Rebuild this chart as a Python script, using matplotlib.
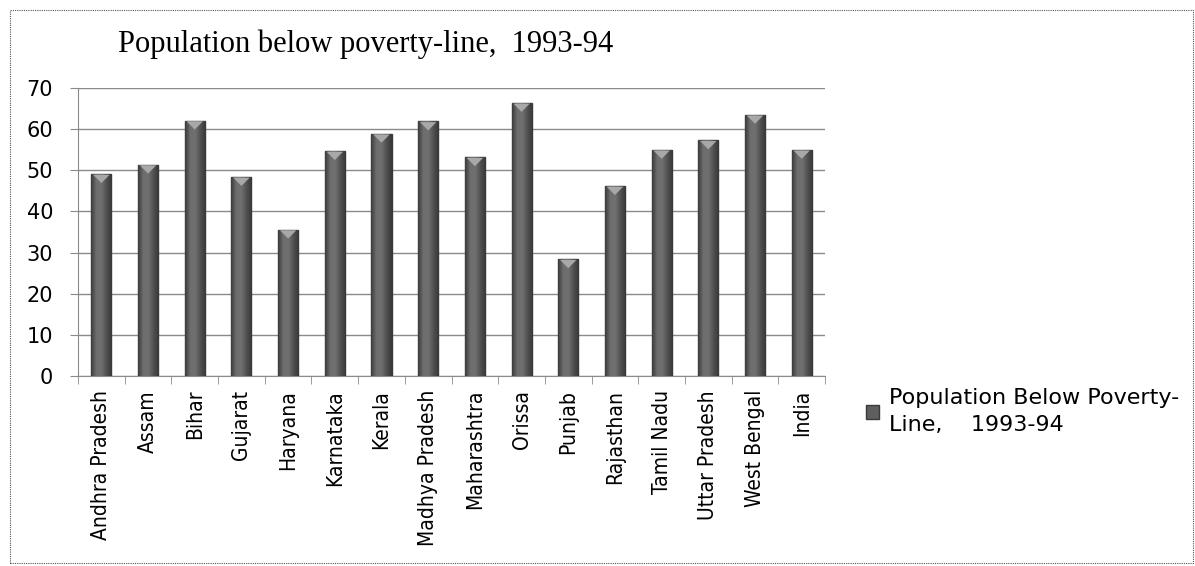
import matplotlib
matplotlib.use("Agg")
import matplotlib.pyplot as plt
import numpy as np
from matplotlib.patches import Rectangle, Polygon
from matplotlib.colors import LinearSegmentedColormap

# 데이터
states = ["Andhra Pradesh", "Assam", "Bihar", "Gujarat", "Haryana", "Karnataka",
          "Kerala", "Madhya Pradesh", "Maharashtra", "Orissa", "Punjab",
          "Rajasthan", "Tamil Nadu", "Uttar Pradesh", "West Bengal", "India"]
poverty = [49.1, 51.4, 62.1, 48.4, 35.6, 54.7, 58.9, 61.9, 53.2, 66.4, 28.4,
           46.2, 55.0, 57.3, 63.5, 55.0]
yticks = [0, 10, 20, 30, 40, 50, 60, 70]
series_name = "Population Below Poverty-\nLine,    1993-94"
title = "Population below poverty-line,  1993-94"

fig = plt.figure(figsize=(11.95, 5.66), dpi=100)
ax = fig.add_axes([0.0653, 0.3357, 0.6251, 0.5088])

x = list(range(len(states)))
bars = ax.bar(x, poverty, width=0.43, color="#5f5f5f", edgecolor="#3a3a3a",
              linewidth=1.0, zorder=3, label=series_name)

# 막대 그라데이션 (가운데 밝고 가장자리 어둡게)
grad_cmap = LinearSegmentedColormap.from_list("bar", ["#3c3c3c", "#6e6e6e", "#707070", "#505050", "#383838"])
grad = np.linspace(0, 1, 64).reshape(1, -1)
for b in bars:
    x0 = b.get_x()
    w = b.get_width()
    h = b.get_height()
    im = ax.imshow(grad, cmap=grad_cmap, extent=(x0, x0 + w, 0, h), aspect="auto", zorder=3.5)
    im.set_clip_path(b)
    # 위쪽 삼각형 하이라이트
    tri = Polygon([[x0 + 0.04, h - 0.2], [x0 + w - 0.04, h - 0.2], [x0 + w / 2, h - 2.2]],
                  closed=True, fc="#a8a8a8", ec="none", zorder=4)
    ax.add_patch(tri)

ax.set_xlim(-0.5, len(states) - 0.5)
ax.set_ylim(0, 70)
ax.set_yticks(yticks)
ax.set_yticklabels([str(t) for t in yticks], fontsize=15, family="DejaVu Sans")
ax.yaxis.grid(True, color="#8a8a8a", lw=1.0, zorder=0)

ax.set_xticks(x)
ax.set_xticklabels(states, rotation=90, fontsize=15, family="DejaVu Sans", stretch="condensed")
ax.tick_params(axis="x", length=0, pad=10)
ax.set_xticks([i - 0.5 for i in range(len(states) + 1)], minor=True)
ax.tick_params(axis="x", which="minor", length=6, color="#8a8a8a", direction="out")
ax.tick_params(axis="y", length=6, color="#8a8a8a", direction="out", pad=12)

for s in ["top", "right"]:
    ax.spines[s].set_visible(False)
for s in ["left", "bottom"]:
    ax.spines[s].set_color("#8a8a8a")

fig.text(0.0985, 0.922, title, fontsize=22, family="Liberation Serif", va="center")

leg = ax.legend(handles=[bars], labels=[series_name], loc="upper left",
                bbox_to_anchor=(0.708, 0.35), bbox_transform=fig.transFigure,
                frameon=False, prop={"family": "DejaVu Sans", "size": 16},
                handlelength=0.6, handleheight=0.6, handletextpad=0.45)
leg.get_texts()[0].set_linespacing(1.45)

fig.patches.append(Rectangle((0.008, 0.005), 0.99, 0.977, transform=fig.transFigure,
                             fill=False, ls=(0, (1, 1)), lw=0.8, ec="#555555"))

fig.savefig("out.png", dpi=100)
